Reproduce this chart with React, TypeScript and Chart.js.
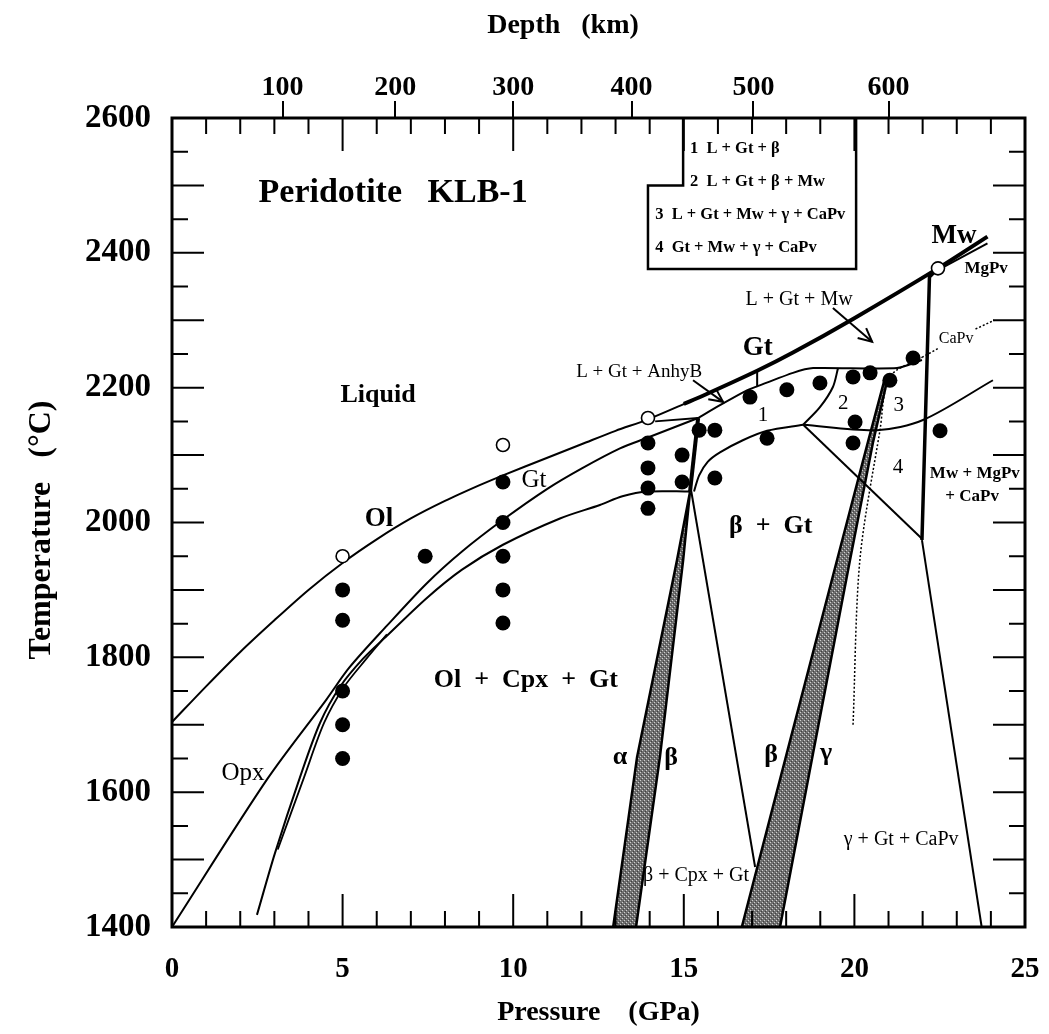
import React, { useEffect, useRef } from 'react';
import { Chart, registerables } from 'chart.js';
Chart.register(...registerables);

const FONT = "'Liberation Serif', 'Times New Roman', serif";

// ---- axes ----
const pressureTicks = [0, 5, 10, 15, 20, 25];
const temperatureRange = [1400, 2600];
const depthLabels = [100, 200, 300, 400, 500, 600];
const depthAtPressure = [3.24, 6.54, 10.0, 13.47, 17.04, 21.0];

// ---- phase boundaries [P (GPa), T (°C)] ----
const liquidusOl = [[0, 1704], [1, 1757], [2, 1808], [3, 1855], [4, 1900], [5, 1940], [6, 1975], [7, 2006], [8, 2032], [9, 2055], [9.7, 2070], [11, 2096], [12, 2116], [13, 2136], [13.95, 2153], [15.2, 2180]];
const liquidusGt = [[15.0, 2176], [15.56, 2188], [17.15, 2225], [18.2, 2252], [19.96, 2302], [22.45, 2377], [23.9, 2424]];
const mwBranch = [[22.65, 2380], [23.9, 2414]];
const opxGtIn = [[0, 1400], [2.8, 1620], [4.52, 1737], [5.2, 1785], [6.3, 1847], [7.47, 1910], [8.5, 1957], [9.7, 2004], [11, 2050], [12.0, 2080], [13.13, 2110], [13.95, 2126], [15.42, 2155]];
const solidus = [[2.49, 1418], [3.02, 1510], [3.75, 1622], [4.34, 1703], [4.92, 1756], [5.6, 1798], [6.3, 1832], [7.47, 1888], [8.5, 1930], [9.7, 1967], [11.37, 2006], [12.54, 2026], [13.2, 2039], [13.95, 2046], [15.18, 2046]];
const solidusBranch = [[3.1, 1515], [3.87, 1622], [4.46, 1703], [5.04, 1756], [5.7, 1798], [6.3, 1834]];
const anhyBSegment = [[14.16, 2150], [15.42, 2155]];
const anhyBTick = [[17.15, 2225], [17.15, 2201]];
const betaInTop = [[15.18, 2045], [15.42, 2155]];
const region1Top = [[15.42, 2155], [16.06, 2174], [16.85, 2196], [17.15, 2202], [18.2, 2222], [18.79, 2229], [21.25, 2229], [21.98, 2241]];
const betaGtTop = [[15.3, 2046], [15.45, 2070], [15.7, 2090], [16.06, 2104], [16.73, 2122], [17.44, 2136], [18.5, 2145]];
const mwIn = [[18.5, 2145], [18.99, 2171], [19.37, 2201], [19.52, 2229]];
const region4Top = [[18.5, 2145], [20.66, 2137], [22.01, 2152], [24.06, 2211]];
const region4Diag = [[18.5, 2145], [21.98, 1976]];
const cpxOut = [[15.22, 2046], [17.09, 1489]];
const mgPvIn = [[22.45, 2377], [22.2, 2364], [21.98, 1974]];
const mgPvLower = [[21.98, 1974], [23.73, 1400]];
const dottedGamma = [[19.96, 1700], [20.16, 1944], [20.75, 2137], [21.04, 2216], [21.98, 2245]];
const caPvDotted1 = [[21.98, 2245], [22.45, 2258]];
const caPvDotted2 = [[23.55, 2287], [24.1, 2300]];
const bandAlphaBeta = [[12.93, 1400], [13.63, 1652], [14.8, 1944], [15.18, 2045], [14.98, 1944], [14.3, 1652], [13.6, 1400]];
const bandBetaGamma = [[16.7, 1400], [18.02, 1658], [19.49, 1944], [20.4, 2120], [20.9, 2215], [20.98, 2215], [20.55, 2120], [19.87, 1944], [18.79, 1658], [17.82, 1400]];
const legendBox = [[14.98, 2600], [14.98, 2500], [13.95, 2500], [13.95, 2376], [20.05, 2376], [20.05, 2600]];

// ---- experiments ----
const filledRuns = [[5, 1900], [5, 1855], [5, 1750], [5, 1700], [5, 1650], [7.42, 1950], [9.7, 2060], [9.7, 2000], [9.7, 1950], [9.7, 1900], [9.7, 1851], [13.95, 2118], [13.95, 2081], [13.95, 2051], [13.95, 2021], [14.95, 2100], [14.95, 2060], [15.45, 2137], [15.91, 2137], [15.91, 2066], [17.44, 2125], [16.94, 2186], [18.02, 2197], [18.99, 2207], [19.96, 2216], [20.46, 2222], [21.04, 2211], [20.02, 2149], [19.96, 2118], [21.72, 2244], [22.51, 2136]];
const openRuns = [[5, 1950], [9.7, 2115], [13.95, 2155], [22.45, 2377]];

// ---- text ----
type Lab = { text: string; p: number; t: number; size: number; bold?: boolean; align?: CanvasTextAlign };
const labels: Lab[] = [
  { text: 'Peridotite   KLB-1', p: 6.48, t: 2489, size: 34, bold: true },
  { text: 'Liquid', p: 6.04, t: 2189, size: 26, bold: true },
  { text: 'Ol', p: 6.07, t: 2005, size: 27, bold: true },
  { text: 'Gt', p: 10.61, t: 2062, size: 25 },
  { text: 'Ol  +  Cpx  +  Gt', p: 10.37, t: 1766, size: 26, bold: true },
  { text: 'Opx', p: 2.08, t: 1628, size: 25 },
  { text: 'α', p: 13.13, t: 1652, size: 26, bold: true },
  { text: 'β', p: 14.63, t: 1651, size: 26, bold: true },
  { text: 'β', p: 17.56, t: 1655, size: 26, bold: true },
  { text: 'γ', p: 19.17, t: 1657, size: 26, bold: true },
  { text: 'β + Cpx + Gt', p: 15.36, t: 1476, size: 20 },
  { text: 'γ + Gt + CaPv', p: 21.37, t: 1529, size: 20 },
  { text: 'β  +  Gt', p: 17.55, t: 1995, size: 26, bold: true },
  { text: 'Mw + MgPv', p: 23.53, t: 2073, size: 17, bold: true },
  { text: '+ CaPv', p: 23.45, t: 2038, size: 17, bold: true },
  { text: '4', p: 21.28, t: 2082, size: 21 },
  { text: '3', p: 21.3, t: 2174, size: 21 },
  { text: '2', p: 19.67, t: 2176, size: 21 },
  { text: '1', p: 17.32, t: 2159, size: 21 },
  { text: 'L + Gt + AnhyB', p: 13.69, t: 2223, size: 19 },
  { text: 'L + Gt + Mw', p: 18.38, t: 2330, size: 20 },
  { text: 'Gt', p: 17.17, t: 2259, size: 27, bold: true },
  { text: 'Mw', p: 22.92, t: 2425, size: 27, bold: true },
  { text: 'MgPv', p: 23.86, t: 2377, size: 17, bold: true },
  { text: 'CaPv', p: 22.98, t: 2272, size: 16 },
  { text: '1  L + Gt + β', p: 15.18, t: 2555, size: 16.5, bold: true, align: 'left' },
  { text: '2  L + Gt + β + Mw', p: 15.18, t: 2505, size: 16.5, bold: true, align: 'left' },
  { text: '3  L + Gt + Mw + γ + CaPv', p: 14.16, t: 2456, size: 16.5, bold: true, align: 'left' },
  { text: '4  Gt + Mw + γ + CaPv', p: 14.16, t: 2407, size: 16.5, bold: true, align: 'left' },
];
const arrows = [
  { from: [15.27, 2211], to: [16.15, 2179] },
  { from: [19.37, 2318], to: [20.52, 2268] },
];

const xy = (a: number[][]) => a.map(([x, y]) => ({ x, y }));

export default function App() {
  const ref = useRef<HTMLCanvasElement | null>(null);
  useEffect(() => {
    document.body.style.margin = '0';
    document.body.style.overflow = 'hidden';
    const canvas = ref.current!;
    const ctx0 = canvas.getContext('2d')!;
    const pc = document.createElement('canvas');
    pc.width = 4; pc.height = 4;
    const g = pc.getContext('2d')!;
    g.fillStyle = '#707070'; g.fillRect(0, 0, 4, 4);
    g.fillStyle = '#d0d0d0'; g.fillRect(0, 0, 1, 1); g.fillRect(2, 2, 1, 1);
    g.fillStyle = '#404040'; g.fillRect(1, 3, 1, 1); g.fillRect(3, 1, 1, 1);
    const pattern = ctx0.createPattern(pc, 'repeat')!;

    const line = (pts: number[][], width = 2, extra: any = {}) => ({
      type: 'line', data: xy(pts), borderColor: '#000', borderWidth: width,
      pointRadius: 0, fill: false, tension: 0.3, order: 1, ...extra,
    });

    const datasets: any[] = [
      { type: 'line', data: xy(filledRuns), showLine: false, pointRadius: 7.5, pointBackgroundColor: '#000', pointBorderColor: '#000', pointBorderWidth: 0, order: 0 },
      { type: 'line', data: xy(openRuns), showLine: false, pointRadius: 6.5, pointBackgroundColor: '#fff', pointBorderColor: '#000', pointBorderWidth: 1.6, order: 0 },
      line(liquidusOl, 2),
      line(liquidusGt, 4),
      line(mwBranch, 2, { tension: 0 }),
      line(opxGtIn, 2),
      line(solidus, 2),
      line(solidusBranch, 1.8),
      line(anhyBSegment, 2, { tension: 0 }),
      line(anhyBTick, 2, { tension: 0 }),
      line(betaInTop, 4, { tension: 0 }),
      line(region1Top, 2, { tension: 0.2 }),
      line(betaGtTop, 2),
      line(mwIn, 2),
      line(region4Top, 2),
      line(region4Diag, 2, { tension: 0 }),
      line(cpxOut, 2, { tension: 0 }),
      line(mgPvIn, 3.5, { tension: 0 }),
      line(mgPvLower, 2, { tension: 0 }),
      line(dottedGamma, 1.5, { borderDash: [2, 2] }),
      line(caPvDotted1, 1.5, { borderDash: [2, 2], tension: 0 }),
      line(caPvDotted2, 1.5, { borderDash: [2, 2], tension: 0 }),
      line(legendBox, 2.5, { tension: 0 }),
      line(bandAlphaBeta, 2.5, { tension: 0, fill: 'shape', backgroundColor: pattern, order: 2 }),
      line(bandBetaGamma, 2.5, { tension: 0, fill: 'shape', backgroundColor: pattern, order: 2 }),
    ];

    const decor = {
      id: 'decor',
      afterDatasetsDraw(chart: any) {
        const { ctx, chartArea: a, scales } = chart;
        const sx = scales.x, sy = scales.y;
        ctx.save();
        ctx.fillStyle = '#000';
        ctx.strokeStyle = '#000';
        ctx.textBaseline = 'middle';
        for (const l of labels) {
          ctx.font = `${l.bold ? 'bold ' : ''}${l.size}px ${FONT}`;
          ctx.textAlign = l.align || 'center';
          ctx.fillText(l.text, sx.getPixelForValue(l.p), sy.getPixelForValue(l.t));
        }
        ctx.lineWidth = 2;
        for (const ar of arrows) {
          const x1 = sx.getPixelForValue(ar.from[0]), y1 = sy.getPixelForValue(ar.from[1]);
          const x2 = sx.getPixelForValue(ar.to[0]), y2 = sy.getPixelForValue(ar.to[1]);
          ctx.beginPath(); ctx.moveTo(x1, y1); ctx.lineTo(x2, y2); ctx.stroke();
          const ang = Math.atan2(y2 - y1, x2 - x1);
          ctx.beginPath();
          ctx.moveTo(x2 - 15 * Math.cos(ang - 0.45), y2 - 15 * Math.sin(ang - 0.45));
          ctx.lineTo(x2, y2);
          ctx.lineTo(x2 - 15 * Math.cos(ang + 0.45), y2 - 15 * Math.sin(ang + 0.45));
          ctx.stroke();
        }
        // frame
        ctx.lineWidth = 3;
        ctx.strokeRect(a.left, a.top, a.right - a.left, a.bottom - a.top);
        // inward ticks
        ctx.lineWidth = 2;
        ctx.beginPath();
        for (let v = sx.min; v <= sx.max; v += 1) {
          const px = sx.getPixelForValue(v);
          const len = v % 5 === 0 ? 33 : 16;
          ctx.moveTo(px, a.bottom); ctx.lineTo(px, a.bottom - len);
          ctx.moveTo(px, a.top); ctx.lineTo(px, a.top + len);
        }
        for (let v = sy.min; v <= sy.max; v += 50) {
          const py = sy.getPixelForValue(v);
          const len = v % 100 === 0 ? 32 : 16;
          ctx.moveTo(a.left, py); ctx.lineTo(a.left + len, py);
          ctx.moveTo(a.right, py); ctx.lineTo(a.right - len, py);
        }
        ctx.stroke();
        // axis titles
        ctx.textAlign = 'center';
        ctx.font = `bold 28px ${FONT}`;
        ctx.fillText('Pressure    (GPa)', (a.left + a.right) / 2, 1013);
        ctx.fillText('Depth   (km)', 563, 26);
        ctx.save();
        ctx.translate(42, 530);
        ctx.rotate(-Math.PI / 2);
        ctx.font = `bold 32px ${FONT}`;
        ctx.fillText('Temperature   (°C)', 0, 0);
        ctx.restore();
        ctx.restore();
      },
    };

    const noPad = (h: number) => (s: any) => { s.height = h; s.paddingLeft = 0; s.paddingRight = 0; };

    const chart = new Chart(canvas, {
      type: 'scatter',
      data: { datasets },
      options: {
        animation: false,
        responsive: false,
        maintainAspectRatio: false,
        layout: { padding: { left: 0, right: 24, top: 0, bottom: 0 } },
        plugins: { legend: { display: false }, tooltip: { enabled: false } },
        scales: {
          x: {
            type: 'linear', position: 'bottom', min: pressureTicks[0], max: pressureTicks[pressureTicks.length - 1],
            afterBuildTicks: (s: any) => { s.ticks = pressureTicks.map((v) => ({ value: v })); },
            ticks: { color: '#000', font: { family: FONT, size: 29, weight: 'bold' }, padding: 25, maxRotation: 0, autoSkip: false, callback: (v: any) => String(v) },
            grid: { display: false, drawTicks: false },
            border: { display: false },
            afterFit: noPad(107),
          },
          x2: {
            type: 'linear', position: 'top', min: pressureTicks[0], max: pressureTicks[pressureTicks.length - 1],
            afterBuildTicks: (s: any) => { s.ticks = depthAtPressure.map((v) => ({ value: v })); },
            ticks: { color: '#000', font: { family: FONT, size: 28, weight: 'bold' }, padding: -4, maxRotation: 0, autoSkip: false, callback: (_v: any, i: number) => String(depthLabels[i]) },
            grid: { display: true, drawOnChartArea: false, drawTicks: true, tickLength: 17, lineWidth: 2, color: '#000' },
            border: { display: false },
            afterFit: noPad(118),
          },
          y: {
            type: 'linear', position: 'left', min: temperatureRange[0], max: temperatureRange[1],
            ticks: { stepSize: 200, color: '#000', font: { family: FONT, size: 33, weight: 'bold' }, padding: 21, callback: (v: any) => String(v) },
            grid: { display: false, drawTicks: false },
            border: { display: false },
            afterFit: (s: any) => { s.width = 172; s.paddingTop = 0; s.paddingBottom = 0; },
          },
        },
      } as any,
      plugins: [decor],
    });
    return () => chart.destroy();
  }, []);
  return (
    <div style={{ width: 1049, height: 1034 }}>
      <canvas ref={ref} width={1049} height={1034} style={{ display: 'block' }} />
    </div>
  );
}
